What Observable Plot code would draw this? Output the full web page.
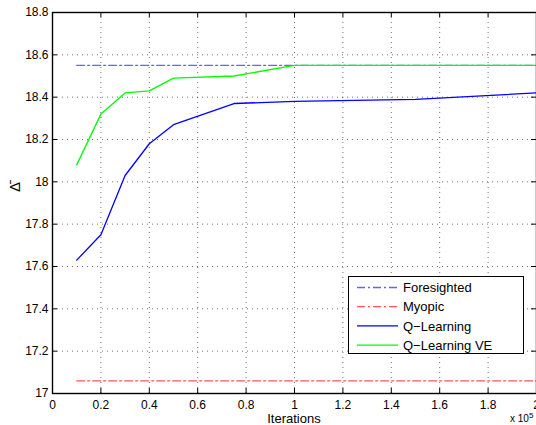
<!DOCTYPE html>
<html><head><meta charset="utf-8">
<script src="https://cdn.jsdelivr.net/npm/d3@7"></script>
<script src="https://cdn.jsdelivr.net/npm/@observablehq/plot@0.6"></script>
<style>
body{margin:0;background:#fff;overflow:hidden;}
#wrap{position:relative;width:536px;height:425px;overflow:hidden;font-family:"Liberation Sans",Arial,sans-serif;}
#legend{position:absolute;left:348px;top:276px;}
#expo{position:absolute;left:510px;top:413px;font-size:10px;line-height:12px;color:#000;white-space:nowrap;}
#expo sup{font-size:8px;vertical-align:4px;line-height:0;}
#xlabel{position:absolute;left:244px;width:100px;text-align:center;top:412px;font-size:13px;line-height:13px;color:#000;}
#ylabel{position:absolute;left:0px;top:179px;width:30px;height:16px;text-align:center;font-size:15px;line-height:16px;color:#000;transform:rotate(-90deg);transform-origin:15px 8px;}
</style>
</head><body><div id="wrap"></div>
<script>
// data (x in units of 10^5 iterations)
const iterations = [0.1, 0.2, 0.3, 0.4, 0.5, 0.75, 1.0, 1.5, 2.0];
const qLearning = [17.63, 17.75, 18.03, 18.18, 18.27, 18.37, 18.38, 18.39, 18.42];
const qLearningVE = [18.08, 18.32, 18.42, 18.43, 18.49, 18.50, 18.55, 18.55, 18.55];
const constX = [0.1, 2.0];
const foresighted = [18.55, 18.55];
const myopic = [17.06, 17.06];
const xTicks = [0, 0.2, 0.4, 0.6, 0.8, 1, 1.2, 1.4, 1.6, 1.8, 2];
const yTicks = [17, 17.2, 17.4, 17.6, 17.8, 18, 18.2, 18.4, 18.6, 18.8];
const seriesNames = ["Foresighted", "Myopic", "Q\u2212Learning", "Q\u2212Learning VE"];
const seriesColors = ["#6666ff", "#ff5555", "#0000ff", "#00ff00"];
const seriesDash = ["8,3,2,3", "8,3,2,3", null, null];
const xLabel = "Iterations";
const yLabel = "\u0394\u0304";

const W = 536, H = 425, mL = 52, mR = 0, mT = 12, mB = 32;
const plotW = W - mL - mR, plotH = H - mT - mB;
const fmt = d => String(Math.round(d * 10) / 10);
const toRows = (xs, ys) => xs.map((x, i) => ({x, y: ys[i]}));
const allSeries = [toRows(constX, foresighted), toRows(constX, myopic), toRows(iterations, qLearning), toRows(iterations, qLearningVE)];

const gridStyle = {stroke: "#000", strokeOpacity: 0.55, strokeDasharray: "1,4", strokeWidth: 1};

const chart = Plot.plot({
  width: W, height: H,
  marginLeft: mL, marginRight: mR, marginTop: mT, marginBottom: mB,
  style: {fontFamily: "'Liberation Sans', Arial, sans-serif", fontSize: "12px", color: "#000", background: "white", overflow: "hidden"},
  x: {domain: [0, 2]},
  y: {domain: [17, 18.8]},
  marks: [
    Plot.gridX(xTicks, gridStyle),
    Plot.gridY(yTicks, gridStyle),
    Plot.axisX(xTicks, {tickSize: 0, tickPadding: 7, tickFormat: fmt, label: null, fontSize: 12}),
    Plot.axisY(yTicks, {tickSize: 0, tickPadding: 4, tickFormat: fmt, label: null, fontSize: 12}),
    Plot.tickX(xTicks, {x: d => d, insetTop: plotH - 5, stroke: "#000"}),
    Plot.tickX(xTicks, {x: d => d, insetBottom: plotH - 5, stroke: "#000"}),
    Plot.tickY(yTicks, {y: d => d, insetRight: plotW - 5, stroke: "#000"}),
    Plot.tickY(yTicks, {y: d => d, insetLeft: plotW - 5, stroke: "#000"}),
    ...allSeries.map((rows, i) => Plot.line(rows, {x: "x", y: "y", stroke: seriesColors[i], strokeWidth: 1.3, strokeDasharray: seriesDash[i]})),
    Plot.frame({stroke: "#000", strokeWidth: 1.4})
  ]
});
const wrap = document.getElementById("wrap");
wrap.appendChild(chart);

// legend
const lw = 176, lh = 78;
const ns = "http://www.w3.org/2000/svg";
const leg = document.createElementNS(ns, "svg");
leg.setAttribute("id", "legend");
leg.setAttribute("width", lw);
leg.setAttribute("height", lh);
let inner = `<rect x="0.5" y="0.5" width="${lw - 1}" height="${lh - 1}" fill="#fff" stroke="#000" stroke-width="1"/>`;
seriesNames.forEach((name, i) => {
  const cy = 11.5 + i * 19.2;
  inner += `<line x1="9" x2="50" y1="${cy}" y2="${cy}" stroke="${seriesColors[i]}" stroke-width="1.3" ${seriesDash[i] ? `stroke-dasharray="${seriesDash[i]}"` : ""}/>`;
  inner += `<text x="55" y="${cy}" dy="0.36em" font-size="13" font-family="'Liberation Sans', Arial, sans-serif" fill="#000">${name}</text>`;
});
leg.innerHTML = inner;
wrap.appendChild(leg);

const xl = document.createElement("div");
xl.id = "xlabel"; xl.textContent = xLabel; wrap.appendChild(xl);
const yl = document.createElement("div");
yl.id = "ylabel"; yl.textContent = yLabel; wrap.appendChild(yl);

const expo = document.createElement("div");
expo.id = "expo";
expo.innerHTML = "x 10<sup>5</sup>";
wrap.appendChild(expo);
</script>
</body></html>
